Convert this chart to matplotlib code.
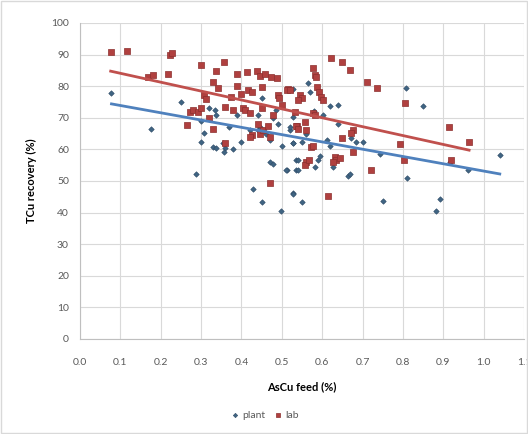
import matplotlib
matplotlib.use("Agg")
import matplotlib.pyplot as plt
import numpy as np

# ---- data ----
plant_x = [0.078, 0.177, 0.249, 0.287, 0.308, 0.299, 0.330, 0.338, 0.355, 0.359,
           0.356, 0.380, 0.400, 0.338, 0.334, 0.388, 0.450, 0.441, 0.446, 0.478,
           0.470, 0.478, 0.512, 0.429, 0.450, 0.499, 0.528, 0.536, 0.536, 0.528,
           0.520, 0.485, 0.808, 0.850, 0.619, 0.639, 0.565, 0.569, 0.528, 0.602,
           0.528, 0.520, 0.528, 0.549, 0.611, 0.619, 0.672, 0.685, 0.701, 0.743,
           0.540, 0.590, 0.510, 0.540, 0.582, 0.627, 0.664, 0.670, 0.810, 0.528,
           0.549, 0.751, 0.891, 0.881, 0.917, 0.961, 1.040, 0.460, 0.490, 0.500,
           0.470, 0.420, 0.370, 0.300, 0.560, 0.580, 0.640, 0.320, 0.440, 0.595]
plant_y = [77.7, 66.6, 75.1, 52.1, 65.1, 62.5, 60.9, 60.3, 62.1, 60.3,
           59.3, 60.0, 62.5, 70.9, 72.5, 70.9, 76.4, 66.1, 67.0, 69.8,
           56.1, 55.4, 53.5, 47.6, 43.4, 40.6, 46.1, 56.6, 53.5, 61.9,
           66.1, 72.5, 79.3, 73.8, 73.8, 74.0, 80.9, 78.3, 79.1, 70.9,
           70.4, 67.2, 61.9, 62.5, 63.0, 61.1, 63.5, 62.5, 62.5, 58.7,
           56.8, 56.8, 53.5, 53.5, 54.5, 54.5, 51.6, 52.2, 51.1, 45.9,
           43.4, 43.8, 44.2, 40.6, 56.1, 53.5, 58.2, 65.0, 68.0, 61.0,
           63.0, 66.0, 67.0, 69.0, 65.0, 72.0, 68.0, 73.0, 71.0, 58.0]

lab_x = [0.076, 0.116, 0.168, 0.223, 0.229, 0.218, 0.301, 0.356, 0.338, 0.329,
         0.342, 0.307, 0.311, 0.389, 0.413, 0.438, 0.446, 0.458, 0.472, 0.488,
         0.452, 0.416, 0.425, 0.400, 0.375, 0.359, 0.380, 0.404, 0.408, 0.421,
         0.450, 0.478, 0.490, 0.493, 0.515, 0.532, 0.537, 0.272, 0.280, 0.293,
         0.301, 0.264, 0.330, 0.425, 0.421, 0.446, 0.454, 0.466, 0.470, 0.621,
         0.650, 0.670, 0.578, 0.582, 0.584, 0.586, 0.592, 0.596, 0.601, 0.546,
         0.549, 0.540, 0.512, 0.520, 0.711, 0.737, 0.804, 0.578, 0.582, 0.536,
         0.540, 0.561, 0.557, 0.677, 0.672, 0.648, 0.573, 0.578, 0.677, 0.631,
         0.635, 0.644, 0.627, 0.561, 0.557, 0.568, 0.722, 0.792, 0.802, 0.914,
         0.964, 0.918, 0.615, 0.180, 0.320, 0.360, 0.440, 0.500, 0.470, 0.390]
lab_y = [90.7, 91.1, 83.0, 89.9, 90.4, 84.0, 86.6, 87.8, 84.8, 81.4,
         79.4, 77.2, 75.8, 83.9, 84.4, 84.9, 83.2, 83.8, 83.0, 82.5,
         79.8, 78.8, 78.3, 77.5, 76.7, 73.5, 72.5, 73.0, 72.5, 71.4,
         73.0, 70.9, 77.2, 76.2, 79.0, 71.9, 67.4, 71.9, 72.5, 71.9,
         73.0, 67.7, 66.6, 64.6, 63.8, 65.0, 66.1, 67.4, 49.5, 89.0,
         87.8, 85.1, 85.7, 83.5, 82.8, 79.9, 78.3, 76.5, 75.6, 77.2,
         76.2, 75.6, 78.8, 78.8, 81.4, 79.3, 74.6, 71.4, 70.9, 67.4,
         66.6, 66.1, 68.8, 66.1, 65.1, 63.5, 60.9, 61.1, 59.3, 57.7,
         56.6, 57.2, 56.1, 56.1, 55.1, 56.6, 53.5, 61.6, 56.6, 67.2,
         62.2, 56.6, 45.3, 83.5, 70.0, 62.0, 68.0, 74.0, 64.0, 80.0]

# linear trendlines (slope, intercept)
plant_trend = [-23.05, 76.2]
lab_trend = [-28.15, 86.9]

x_ticks = [0.0, 0.1, 0.2, 0.3, 0.4, 0.5, 0.6, 0.7, 0.8, 0.9, 1.0, 1.1]
y_ticks = [0, 10, 20, 30, 40, 50, 60, 70, 80, 90, 100]

plt.rcParams['font.family'] = ['Lato', 'DejaVu Sans']

fig = plt.figure(figsize=(5.28, 4.34), dpi=100)
ax = fig.add_axes([80/528, 1-339/434, 444/528, (339-23)/434])

blue = '#4F81BD'
red = '#C0504D'

ax.scatter(plant_x, plant_y, marker='D', s=8, color='#3F6482',
           edgecolors='#2F4A66', linewidths=0.4, zorder=3, label='plant')
ax.scatter(lab_x, lab_y, marker='s', s=20, color='#B0403F',
           edgecolors='#8C2F2F', linewidths=0.5, zorder=3, label='lab')

px = np.array([min(plant_x), max(plant_x)])
ax.plot(px, plant_trend[0]*px + plant_trend[1], color=blue, lw=2, zorder=4)
lx = np.array([min(lab_x), max(lab_x)])
ax.plot(lx, lab_trend[0]*lx + lab_trend[1], color=red, lw=2, zorder=4)

ax.set_xlim(0, 1.1)
ax.set_ylim(0, 100)
ax.set_xticks(x_ticks)
ax.set_xticklabels([f"{t:.1f}" for t in x_ticks])
ax.set_yticks(y_ticks)
ax.grid(True, color='#D9D9D9', lw=0.8)
ax.set_axisbelow(True)
for s in ['top', 'right']:
    ax.spines[s].set_visible(False)
for s in ['left', 'bottom']:
    ax.spines[s].set_color('#BFBFBF')
ax.tick_params(colors='#595959', labelsize=7.5, length=0, pad=8)
ax.tick_params(axis='x', pad=14)

ax.set_xlabel('AsCu feed (%)', fontsize=8, fontweight='bold', labelpad=10)
ax.set_ylabel('TCu recovery (%)', fontsize=8, fontweight='bold', labelpad=10)

leg = ax.legend(loc='center', bbox_to_anchor=(265/528, 1-415/434),
                bbox_transform=fig.transFigure, ncol=2, frameon=False,
                fontsize=7.5, handlelength=0.8, handletextpad=0.3,
                columnspacing=0.8, markerscale=0.8)
for t in leg.get_texts():
    t.set_color('#595959')

fig.patches.append(plt.Rectangle((0.002, 0.002), 0.996, 0.996, transform=fig.transFigure,
                                 fill=False, edgecolor='#D9D9D9', lw=1))

fig.savefig('out.png', dpi=100)
